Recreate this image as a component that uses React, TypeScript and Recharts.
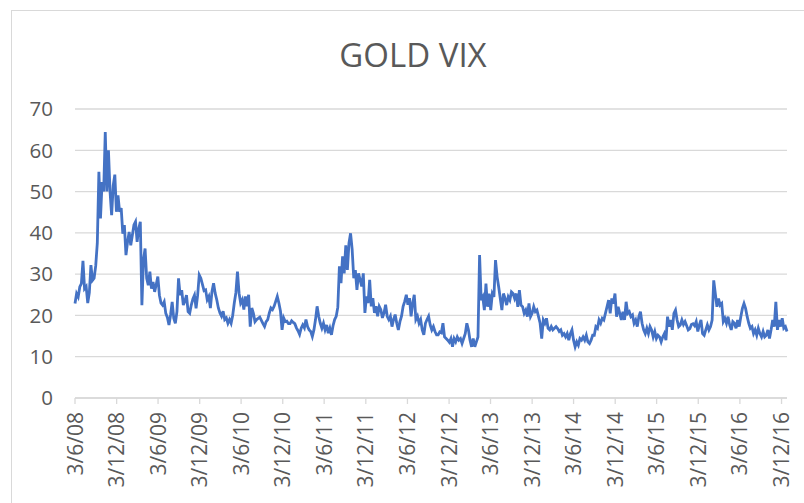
import React from 'react';
import { LineChart, Line, XAxis, YAxis, CartesianGrid } from 'recharts';

const title = 'GOLD VIX';
const startDate = '2008-06-03';
const stepDays = 7;
const tickLabels = ['3/6/08','3/12/08','3/6/09','3/12/09','3/6/10','3/12/10','3/6/11','3/12/11','3/6/12','3/12/12','3/6/13','3/12/13','3/6/14','3/12/14','3/6/15','3/12/15','3/6/16','3/12/16'];
const yTicks = [0, 10, 20, 30, 40, 50, 60, 70];

const vix = [
  22.9, 25.3, 24.5, 26.9, 27.7, 33.2, 26.5, 27, 23, 25.5,
  32.2, 28.5, 29, 32, 37.5, 54.8, 43.5, 52.3, 50, 64.4,
  50, 60, 50, 44.3, 51.5, 54.1, 45.1, 49.1, 45.1, 46,
  39.8, 41.9, 34.6, 37.8, 40.2, 37, 39.4, 41.9, 42.7, 37.8,
  41, 42.7, 22.5, 33.5, 36.2, 29, 27.3, 30.6, 26.5, 28.1,
  25.7, 27.5, 29.4, 24.9, 23, 22.5, 23.3, 20.5, 19.5, 17.7,
  20.1, 23.3, 19.3, 18.1, 20.9, 29, 24.9, 26.1, 22.5, 23.5,
  24.9, 20.9, 20.5, 22.5, 24, 24.9, 21.7, 24.9, 29.8, 29,
  27.5, 26, 26.2, 23.8, 24.6, 21.8, 25.8, 27.8, 25.4, 23.8,
  21.8, 20.6, 19.8, 21, 19, 19.4, 18.1, 19, 18.1, 20,
  23, 25.5, 30.6, 25.4, 23, 23.8, 21.4, 24.6, 22.2, 25,
  17.3, 21.8, 20.5, 18.5, 19, 19.3, 19.6, 18.8, 18, 17.3,
  18.5, 19, 20.6, 21.8, 21.4, 22.2, 23.4, 24.6, 23, 21,
  16.5, 19.4, 18.5, 18.6, 18, 18, 18.7, 18.3, 18, 17,
  16.3, 15.4, 16.9, 17.7, 17, 19, 17.3, 16.5, 16.1, 14.9,
  16.5, 19, 22.2, 19.8, 18.1, 16.9, 18.1, 16.5, 17.7, 15.7,
  16.9, 15.3, 17.5, 19, 19.8, 22, 31.9, 27.8, 34.3, 30.2,
  37, 31, 37.5, 39.9, 36, 29, 31, 26.2, 30.2, 28.6,
  27, 30.2, 20.6, 24.6, 23, 28.6, 22.2, 24.2, 20.6, 22.2,
  19.8, 22.2, 21.4, 19.4, 20.6, 22.6, 19.8, 19, 19.8, 17.3,
  19, 20.2, 18.1, 16.5, 18.5, 19.8, 22.2, 23.4, 25, 22.6,
  24.2, 19.8, 23, 25, 19, 19.8, 18.1, 19, 16.5, 15.3,
  18.1, 19, 19.8, 17.7, 16.5, 17.3, 16.1, 15.3, 15.3, 16,
  15.8, 18.1, 14.8, 14.4, 14, 13.5, 14.4, 12.4, 14.4, 13.6,
  14.8, 14, 14.4, 13.2, 14.4, 15.6, 18.1, 16.5, 14, 12.4,
  14.4, 12.4, 13.6, 14.8, 34.6, 23.7, 24.5, 21.3, 27.7, 22.1,
  25.3, 21.3, 25.3, 24.5, 33.4, 29.4, 26.9, 24.1, 21.3, 25.3,
  24.1, 22.5, 24.5, 23.7, 25.7, 25.3, 24.1, 25.3, 22.1, 26.1,
  22.5, 22.1, 20.5, 21.3, 19.7, 22.9, 19.7, 20.5, 22.1, 20.9,
  21.3, 19.7, 18.1, 14.4, 18.9, 18.1, 19.3, 16.9, 16.5, 17.3,
  16.5, 16.9, 17.3, 16.8, 16.1, 16.5, 15.2, 15.6, 14.8, 15.6,
  14, 15.6, 16.5, 14, 12.4, 13.6, 12.8, 14.4, 14, 14.8,
  14, 15.2, 13.6, 13.2, 14, 15.2, 15.2, 17.3, 16.9, 18.9,
  18.1, 19.3, 18.9, 20.5, 22.1, 23.7, 20.5, 24.1, 22.9, 25.3,
  19.7, 22.1, 20.5, 18.9, 20.9, 18.9, 23.3, 20.5, 20.9, 19.7,
  20.1, 18.1, 18.9, 17.3, 19.7, 20.9, 18.1, 16.5, 15.6, 16.9,
  15.6, 17.3, 16.5, 14.8, 16.1, 14.4, 15.2, 14.8, 13.6, 14.8,
  15.6, 14, 19.7, 17.3, 18.9, 16.5, 20.5, 21.3, 18.9, 17.3,
  17.7, 18.9, 17.8, 18.5, 17.5, 16.5, 16.8, 17.8, 18, 17.5,
  18.5, 16.1, 17.7, 18.9, 15.6, 15.2, 16.5, 17.7, 16.5, 17.3,
  18.9, 28.5, 25.3, 22.1, 24.1, 22.5, 22.9, 18.5, 19.3, 18.1,
  19.7, 17.7, 16.5, 18.5, 18.1, 16.9, 18.9, 17.3, 19.7, 21.7,
  22.9, 21.7, 19.7, 18.1, 16.9, 17.3, 15.6, 16.5, 15.2, 16.9,
  15.6, 14.8, 16.1, 14.8, 15.2, 16.5, 14.4, 16.5, 18.9, 17.3,
  23.3, 16.5, 18.9, 17.3, 19.3, 16.9, 17.3, 16.1,
];

const DAY = 86400000;
const [sy, sm, sd] = startDate.split('-').map(Number);
const t0 = Date.UTC(sy, sm - 1, sd);
const data = vix.map((v, i) => ({ t: t0 + i * stepDays * DAY, v }));
const parseLabel = (s: string) => {
  const [d, m, y] = s.split('/').map(Number);
  return Date.UTC(2000 + y, m - 1, d);
};
const tickValues = tickLabels.map(parseLabel);
const labelFor: Record<number, string> = {};
tickLabels.forEach((l, i) => { labelFor[tickValues[i]] = l; });

const FONT = '"Open Sans", "Liberation Sans", sans-serif';
const TEXT = '#595959';
const GRID = '#d9d9d9';

const XTick = (props: any) => {
  const { x, payload } = props;
  const y = 412;
  return (
    <text
      x={x}
      y={y}
      dy="0.36em"
      transform={`rotate(-90, ${x}, ${y})`}
      textAnchor="end"
      fill={TEXT}
      fontSize={21}
      fontFamily={FONT}
    >
      {labelFor[payload.value]}
    </text>
  );
};

export default function App() {
  return (
    <div style={{ position: 'absolute', left: 0, top: 0, width: 804, height: 503, overflow: 'hidden', background: '#fff' }}>
      <div style={{ position: 'absolute', left: 11, top: 10, width: 900, height: 600, border: `1px solid ${GRID}`, boxSizing: 'border-box' }} />
      <svg style={{ position: 'absolute', left: 0, top: 0 }} width={804} height={100}>
        <text x={413} y={67} textAnchor="middle" fill={TEXT} fontSize={33} fontFamily={FONT} fontWeight={400}>{title}</text>
      </svg>
      <div style={{ position: 'absolute', left: 0, top: 0 }}>
        <LineChart width={804} height={503} data={data} margin={{ top: 109, right: 17, bottom: 0, left: 0 }}>
          <CartesianGrid vertical={false} stroke={GRID} strokeWidth={1.3} />
          <XAxis
            dataKey="t"
            type="number"
            domain={['dataMin', 'dataMax']}
            ticks={tickValues}
            interval={0}
            height={105}
            axisLine={{ stroke: GRID, strokeWidth: 1.3 }}
            tickLine={{ stroke: GRID, strokeWidth: 1.3 }}
            tickSize={6}
            tick={<XTick />}
          />
          <YAxis
            domain={[0, 70]}
            ticks={yTicks}
            width={75}
            axisLine={false}
            tickLine={false}
            tickSize={6}
            tickMargin={16}
            interval={0}
            tick={{ fill: TEXT, fontSize: 20.5, fontFamily: FONT }}
          />
          <Line
            type="linear"
            dataKey="v"
            stroke="#4472C4"
            strokeWidth={2.8}
            dot={false}
            isAnimationActive={false}
          />
        </LineChart>
      </div>
    </div>
  );
}
